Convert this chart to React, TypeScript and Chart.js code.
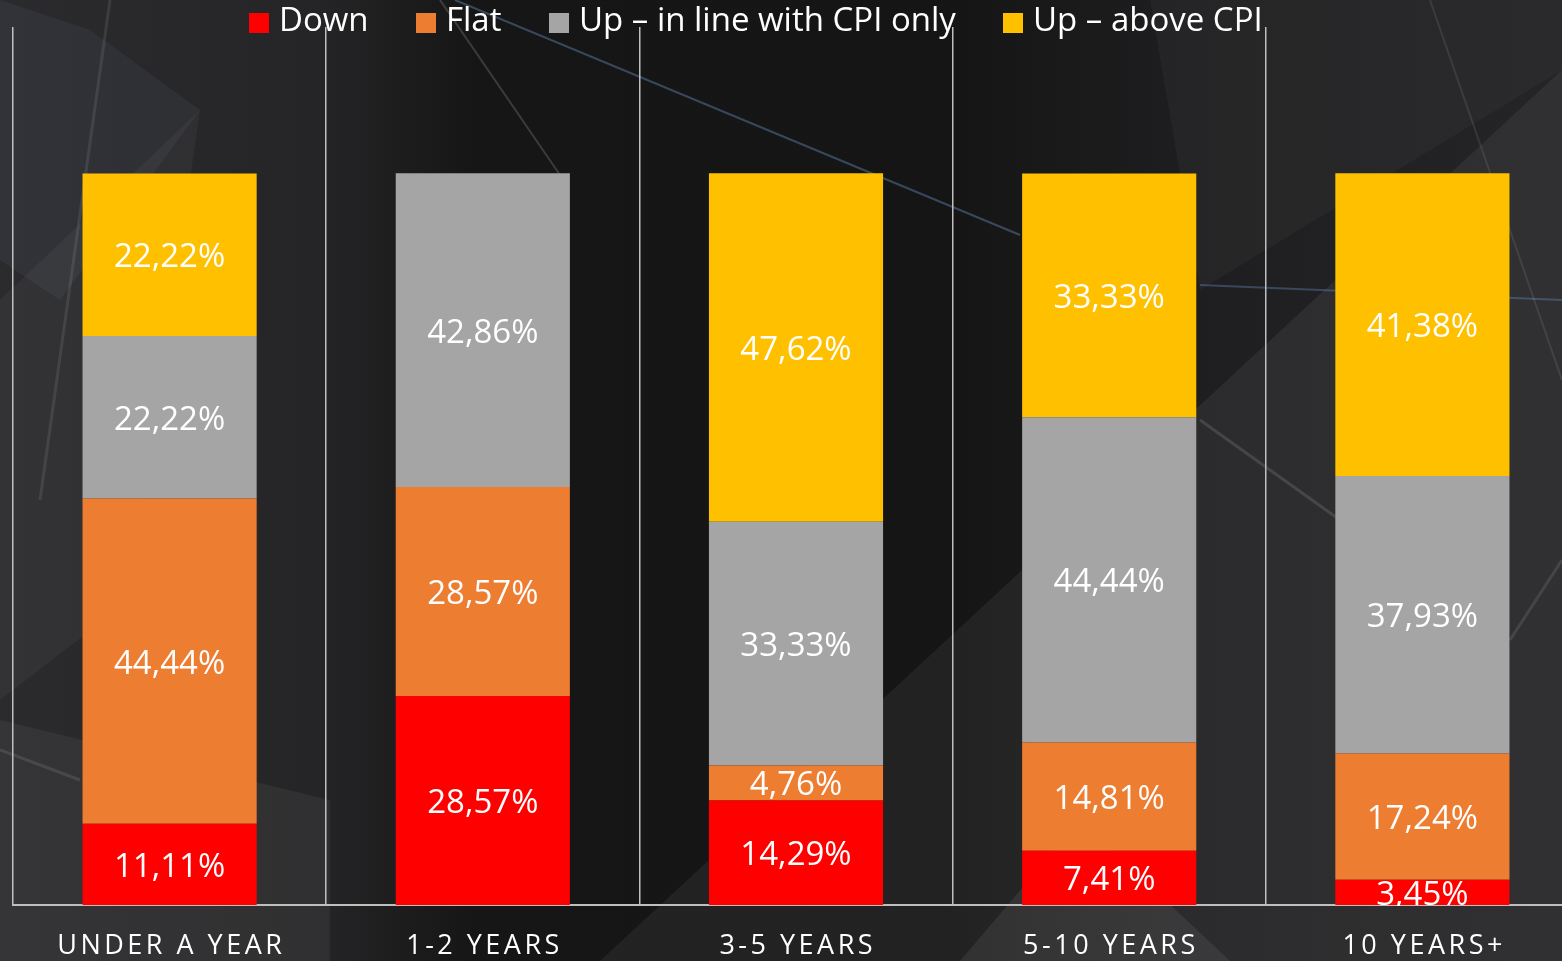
import React, { useEffect, useRef } from "react";
import { Chart, registerables } from "chart.js";

Chart.register(...registerables);

const categories = ["UNDER A YEAR", "1-2 YEARS", "3-5 YEARS", "5-10 YEARS", "10 YEARS+"];
const seriesNames = ["Down", "Flat", "Up \u2013 in line with CPI only", "Up \u2013 above CPI"];
const downValues = [11.11, 28.57, 14.29, 7.41, 3.45];
const flatValues = [44.44, 28.57, 4.76, 14.81, 17.24];
const upCpiValues = [22.22, 42.86, 33.33, 44.44, 37.93];
const upAboveValues = [22.22, 0, 47.62, 33.33, 41.38];
const seriesColors = ["#FF0000", "#ED7D31", "#A5A5A5", "#FFC000"];

const FONT = "'Open Sans', 'Noto Sans', sans-serif";
const legendX = [249, 416, 549, 1003];

const backgroundPlugin = {
  id: "bgArt",
  beforeDraw(chart: any) {
    const { ctx, width, height } = chart;
    ctx.save();
    const g = ctx.createLinearGradient(0, 0, width, 0);
    g.addColorStop(0, "#2b2b2e");
    g.addColorStop(0.2, "#252527");
    g.addColorStop(0.3, "#161616");
    g.addColorStop(0.6, "#151515");
    g.addColorStop(0.75, "#1e1e20");
    g.addColorStop(1, "#252527");
    ctx.fillStyle = g;
    ctx.fillRect(0, 0, width, height);
    const poly = (pts: number[][], color: string) => {
      ctx.beginPath();
      ctx.moveTo(pts[0][0], pts[0][1]);
      for (let i = 1; i < pts.length; i++) ctx.lineTo(pts[i][0], pts[i][1]);
      ctx.closePath();
      ctx.fillStyle = color;
      ctx.fill();
    };
    poly([[0, 0], [90, 30], [200, 110], [60, 300], [0, 260]], "rgba(120,130,150,0.10)");
    poly([[0, 300], [200, 110], [130, 600], [0, 700]], "rgba(255,255,255,0.04)");
    poly([[0, 720], [330, 800], [330, 961], [0, 961]], "rgba(255,255,255,0.05)");
    poly([[1562, 70], [1562, 961], [600, 961]], "rgba(255,255,255,0.06)");
    poly([[1562, 0], [1562, 70], [1200, 290], [1150, 0]], "rgba(255,255,255,0.03)");
    poly([[960, 961], [1080, 820], [1230, 961]], "rgba(255,255,255,0.07)");
    const line = (x1: number, y1: number, x2: number, y2: number, color: string, w: number) => {
      ctx.beginPath();
      ctx.moveTo(x1, y1);
      ctx.lineTo(x2, y2);
      ctx.strokeStyle = color;
      ctx.lineWidth = w;
      ctx.stroke();
    };
    line(455, 0, 1020, 235, "rgba(110,150,200,0.40)", 2);
    line(1200, 285, 1562, 300, "rgba(110,150,200,0.35)", 2);
    line(440, 0, 560, 175, "rgba(255,255,255,0.16)", 2);
    line(110, 0, 40, 500, "rgba(255,255,255,0.09)", 3);
    line(1430, 0, 1562, 380, "rgba(255,255,255,0.09)", 2);
    line(1200, 420, 1340, 520, "rgba(255,255,255,0.12)", 3);
    line(1510, 640, 1562, 560, "rgba(255,255,255,0.10)", 3);
    line(0, 750, 80, 780, "rgba(255,255,255,0.10)", 3);
    ctx.restore();
  },
};

const overlayPlugin = {
  id: "overlayText",
  afterDatasetsDraw(chart: any) {
    const { ctx, chartArea } = chart;
    ctx.save();
    ctx.beginPath();
    ctx.rect(chartArea.left, chartArea.top, chartArea.right - chartArea.left, chartArea.bottom - chartArea.top + 1);
    ctx.clip();
    ctx.fillStyle = "#FFFFFF";
    ctx.font = `33px ${FONT}`;
    ctx.textAlign = "center";
    ctx.textBaseline = "middle";
    chart.data.datasets.forEach((ds: any, di: number) => {
      const meta = chart.getDatasetMeta(di);
      meta.data.forEach((bar: any, i: number) => {
        const v = ds.data[i];
        if (!v) return;
        const y = (bar.y + bar.base) / 2;
        ctx.fillText(v.toFixed(2).replace(".", ",") + "%", bar.x, y + 3);
      });
    });
    ctx.restore();
  },
  afterDraw(chart: any) {
    const { ctx } = chart;
    const xScale = chart.scales.x;
    ctx.save();
    ctx.fillStyle = "#FFFFFF";
    ctx.font = `27px ${FONT}`;
    ctx.textAlign = "center";
    ctx.textBaseline = "middle";
    const spacing = 3.5;
    (ctx as any).letterSpacing = `${spacing}px`;
    categories.forEach((c, i) => {
      ctx.fillText(c, xScale.getPixelForValue(i) + spacing / 2, 946);
    });
    (ctx as any).letterSpacing = "0px";
    ctx.font = `33px ${FONT}`;
    ctx.textAlign = "left";
    seriesNames.forEach((name, i) => {
      const x = legendX[i];
      ctx.fillStyle = seriesColors[i];
      ctx.fillRect(x, 13, 20, 20);
      ctx.fillStyle = "#FFFFFF";
      ctx.fillText(name, x + 30, 22);
    });
    ctx.restore();
  },
};

export default function App() {
  const ref = useRef<HTMLCanvasElement | null>(null);
  useEffect(() => {
    if (!ref.current) return;
    const valueSets = [downValues, flatValues, upCpiValues, upAboveValues];
    const chart = new Chart(ref.current, {
      type: "bar",
      data: {
        labels: categories,
        datasets: seriesNames.map((name, i) => ({
          label: name,
          data: valueSets[i],
          backgroundColor: seriesColors[i],
          borderWidth: 0,
          barPercentage: 0.556,
          categoryPercentage: 1,
        })),
      },
      options: {
        animation: false,
        responsive: false,
        maintainAspectRatio: false,
        layout: { padding: { left: 13, top: 27, right: 1, bottom: 56 } },
        plugins: { legend: { display: false }, tooltip: { enabled: false } },
        scales: {
          x: {
            stacked: true,
            ticks: { display: false },
            grid: { display: true, offset: true, color: "#BFBFBF", lineWidth: 1.5, drawTicks: false },
            border: { display: true, color: "#BFBFBF", width: 2 },
          },
          y: {
            stacked: true,
            display: false,
            min: 0,
            max: 120,
          },
        },
      },
      plugins: [backgroundPlugin, overlayPlugin],
    });
    return () => chart.destroy();
  }, []);
  return (
    <div style={{ position: "fixed", left: 0, top: 0, width: "100vw", height: "100vh", overflow: "hidden", background: "#1a1a1a" }}>
      <canvas ref={ref} width={1580} height={961} style={{ display: "block", width: 1580, height: 961 }} />
    </div>
  );
}
